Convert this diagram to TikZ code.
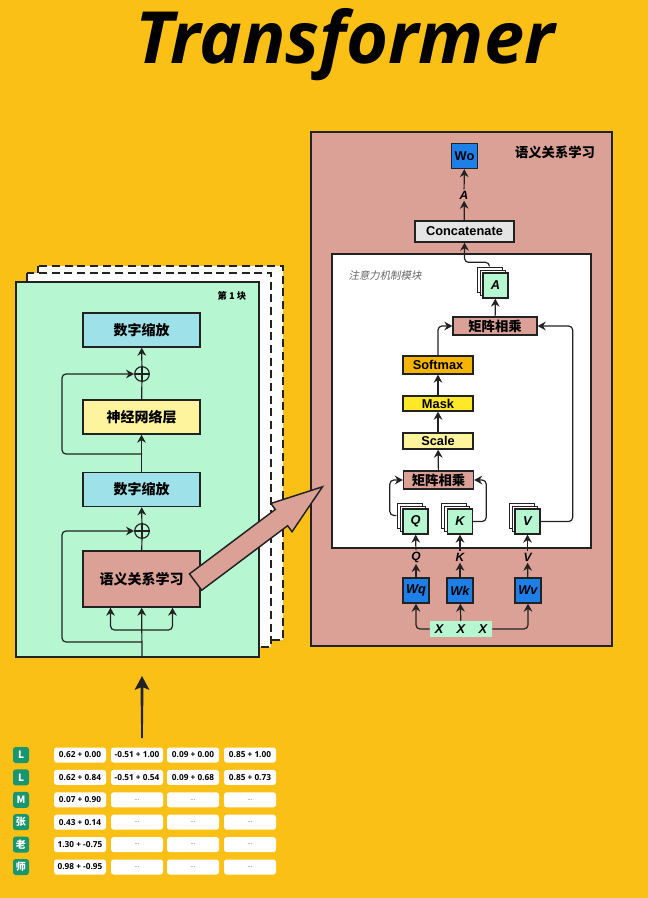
\documentclass[tikz,border=0pt]{standalone}
\usepackage{fontspec}
\setmainfont{Liberation Sans}
\newfontfamily\cjk{Noto Sans CJK SC}
\newfontfamily\cjkslant{Noto Sans CJK SC}[FakeSlant=0.2]
\newfontfamily\opensans{Open Sans}
\usetikzlibrary{arrows.meta,calc,positioning,shadows,shapes.arrows}
\definecolor{bgyellow}{RGB}{251,192,22}
\definecolor{mint}{RGB}{182,247,210}
\definecolor{skyblue}{RGB}{158,225,232}
\definecolor{paleyellow}{RGB}{255,244,158}
\definecolor{salmon}{RGB}{219,161,150}
\definecolor{wblue}{RGB}{30,128,230}
\definecolor{lightgray}{RGB}{228,228,228}
\definecolor{softorange}{RGB}{245,180,0}
\definecolor{maskyellow}{RGB}{255,232,40}
\definecolor{tagteal}{RGB}{24,150,110}
\definecolor{ink}{RGB}{34,34,34}
\newcommand{\gapdots}{{\color{gray}\fontsize{4}{5}\selectfont...}}
\begin{document}
\begin{tikzpicture}[x=0.75pt,y=-0.75pt,>={Stealth[length=6pt,width=6.5pt]}]
\tikzstyle{wire}=[draw=ink,line width=0.9pt,rounded corners=3pt]
\tikzstyle{page}=[draw=ink,fill=white,line width=1.4pt,dash pattern=on 6pt off 3.5pt]
\tikzset{
	block node/.style={rectangle,draw=ink,line width=1.1pt,inner sep=0,minimum width=87.75pt,minimum height=25.5pt,font=\cjk\bfseries\fontsize{10.5}{12}\selectfont},
	op node/.style={rectangle,draw=ink,line width=1pt,inner sep=0,minimum width=52.5pt,font=\bfseries\fontsize{9.6}{11}\selectfont},
	weight node/.style={rectangle,draw=ink,line width=1pt,fill=wblue,inner sep=0,minimum width=19.5pt,minimum height=18.75pt,font=\bfseries\itshape\fontsize{9.6}{11}\selectfont},
	stack node/.style={rectangle,draw=ink,line width=1pt,fill=mint,inner sep=0,minimum size=18.75pt,font=\bfseries\itshape\fontsize{9.6}{11}\selectfont,
		double copy shadow={shadow xshift=-2.25pt,shadow yshift=2.25pt,fill=white,draw=ink,line width=0.6pt}},
	letter node/.style={inner sep=1pt,font=\bfseries\itshape\fontsize{9}{10}\selectfont},
	add node/.style={circle,draw=ink,line width=0.9pt,minimum size=11pt,inner sep=0,
		path picture={\draw[ink,line width=0.9pt] (path picture bounding box.north) -- (path picture bounding box.south) (path picture bounding box.west) -- (path picture bounding box.east);}},
	tag node/.style={rectangle,rounded corners=2pt,fill=tagteal,text=white,minimum size=12pt,inner sep=0,font=\cjk\bfseries\fontsize{7.5}{8}\selectfont},
	cell node/.style={rectangle,rounded corners=2pt,fill=white,minimum width=39pt,minimum height=11.25pt,inner sep=0,font=\opensans\bfseries\fontsize{6.2}{7}\selectfont}
}
\useasboundingbox (0,0) rectangle (648,898);
\fill[bgyellow] (0,0) rectangle (648,898);
\node (title) [anchor=base,font=\opensans\bfseries\itshape\fontsize{54}{64}\selectfont] at (345,64) {Transformer};

% block 1 and the copies behind it
\draw[page] (38,266) rectangle (283,640);
\draw[page] (27,273) rectangle (271,647);
\draw[draw=ink,line width=1.4pt,fill=mint] (16,282) rectangle (259,657);
\node (blk) [font=\cjk\bfseries\fontsize{7}{8}\selectfont] at (232,296) {第 1 块};
\node (attn) [block node,fill=salmon,minimum height=42pt] at (141.5,579) {语义关系学习};
\node (add1) [add node] at (142,531) {};
\node (norm1) [block node,fill=skyblue] at (141.5,489.5) {数字缩放};
\node (ffn) [block node,fill=paleyellow] at (141.5,417) {神经网络层};
\node (add2) [add node] at (142,374) {};
\node (norm2) [block node,fill=skyblue] at (141.5,330) {数字缩放};
\coordinate (in) at (142,657);
\coordinate (split) at (142,630);
\coordinate (res1) at (142,642);
\coordinate (res2) at (142,454);
\draw[wire,->] (in) -- (attn);
\draw[wire,->] (split) -| ($(attn.south)+(-31,0)$);
\draw[wire,->] (split) -| ($(attn.south)+(31,0)$);
\draw[wire,->] (res1) -| ($(add1)+(-80,0)$) -- (add1);
\draw[wire,->] (res2) -| ($(add2)+(-80,0)$) -- (add2);
\draw[wire] (attn) -- (add1);
\draw[wire,->] (add1) -- (norm1);
\draw[wire,->] (norm1) -- (ffn);
\draw[wire] (ffn) -- (add2);
\draw[wire,->] (add2) -- (norm2);

% input
\fill[ink] (142,676) -- (149.5,690) -- (143.5,687.5) -- (142.8,738) -- (141.2,738) -- (140.5,687.5) -- (134.5,690) -- cycle;
\foreach \y/\t/\a/\b/\c/\d [count=\i] in {
	755/L/0.62 + 0.00/-0.51 + 1.00/0.09 + 0.00/0.85 + 1.00,
	777.4/L/0.62 + 0.84/-0.51 + 0.54/0.09 + 0.68/0.85 + 0.73,
	799.8/M/0.07 + 0.90/\gapdots/\gapdots/\gapdots,
	822.2/张/0.43 + 0.14/\gapdots/\gapdots/\gapdots,
	844.6/老/1.30 + -0.75/\gapdots/\gapdots/\gapdots,
	867/师/0.98 + -0.95/\gapdots/\gapdots/\gapdots}{
	\node (tag\i) [tag node] at (21,\y) {\t};
	\node (cell\i-1) [cell node] at (80,\y) {\a};
	\node (cell\i-2) [cell node] at (137,\y) {\b};
	\node (cell\i-3) [cell node] at (193,\y) {\c};
	\node (cell\i-4) [cell node] at (250,\y) {\d};
}

% attention
\draw[draw=ink,line width=1.4pt,fill=salmon] (311,132) rectangle (612,646);
\node (head) [font=\cjk\bfseries\fontsize{10}{12}\selectfont] at (555,152) {语义关系学习};
\node (wo) [weight node,font=\bfseries\fontsize{9.6}{11}\selectfont] at (464.5,156) {Wo};
\node (alab) [letter node] at (464,195) {A};
\node (concat) [op node,fill=lightgray,minimum width=74.25pt,minimum height=15.75pt] at (464.5,231.5) {Concatenate};
\draw[draw=ink,line width=1pt,fill=white] (332,254) rectangle (591,548);
\node (attnlab) [font=\cjkslant\fontsize{7.8}{9}\selectfont,text=gray!80!black] at (385,276) {注意力机制模块};
\node (a) [stack node] at (495.5,285.5) {A};
\node (mm2) [op node,fill=salmon,minimum width=63pt,minimum height=13.5pt,font=\cjk\bfseries\fontsize{10}{12}\selectfont] at (495,326) {矩阵相乘};
\node (softmax) [op node,fill=softorange,minimum height=13.5pt] at (438,365) {Softmax};
\node (mask) [op node,fill=maskyellow,minimum height=11.25pt] at (438,403.5) {Mask};
\node (scale) [op node,fill=paleyellow,minimum height=12pt] at (438,441) {Scale};
\node (mm1) [op node,fill=salmon,minimum height=13.5pt,font=\cjk\bfseries\fontsize{10}{12}\selectfont] at (438.5,480) {矩阵相乘};
\node (q) [stack node] at (415.5,521.5) {Q};
\node (k) [stack node] at (460,521.5) {K};
\node (v) [stack node] at (527.5,521.5) {V};
\node (qlab) [letter node] at (416,557) {Q};
\node (klab) [letter node] at (460,557) {K};
\node (vlab) [letter node] at (527.5,557) {V};
\node (wq) [weight node] at (416,590.5) {Wq};
\node (wk) [weight node] at (460,590.5) {Wk};
\node (wv) [weight node] at (528,590.5) {Wv};
\node (x) [fill=mint,minimum width=46.5pt,minimum height=12pt,inner sep=0,font=\bfseries\itshape\fontsize{9.6}{11}\selectfont] at (461,629) {X\hspace{10pt}X\hspace{10pt}X};
\draw[wire,->] (x.west) -| (wq);
\draw[wire,->] (x) -- (wk);
\draw[wire,->] (x.east) -| (wv);
\draw[wire,->] (wq) -- (qlab);
\draw[wire,->] (wk) -- (klab);
\draw[wire,->] (wv) -- (vlab);
\draw[wire,->] (qlab) -- (q);
\draw[wire,->] (klab) -- (k);
\draw[wire,->] (vlab) -- (v);
\draw[wire,->] ($(q.west)+(-6,-6)$) -| ($(mm1.west)+(-13,0)$) -- (mm1.west);
\draw[wire,->] (k.east) -| ($(mm1.east)+(12,0)$) -- (mm1.east);
\draw[wire,->] (mm1) -- (scale);
\draw[wire,->] (scale) -- (mask);
\draw[wire,->] (mask) -- (softmax);
\draw[wire,->] (softmax.north) |- (mm2.west);
\draw[wire,->] (v.east) -| ($(mm2.east)+(35,0)$) -- (mm2.east);
\draw[wire,->] (mm2) -- (a);
\draw[wire,->] ($(a.north)+(-6,-6)$) -- ++(0,-4) -| (concat.south);
\draw[wire,->] (concat) -- (alab);
\draw[wire,->] (alab) -- (wo);

% block 1 -> attention
\node (jump) [single arrow,draw=ink,line width=1.1pt,fill=salmon,inner xsep=0,inner ysep=7.1pt,minimum height=119pt,minimum width=25.5pt,
	single arrow head extend=5.6pt,single arrow tip angle=38,anchor=tail,rotate=36.9] at (195,582.5) {};
\end{tikzpicture}
\end{document}
